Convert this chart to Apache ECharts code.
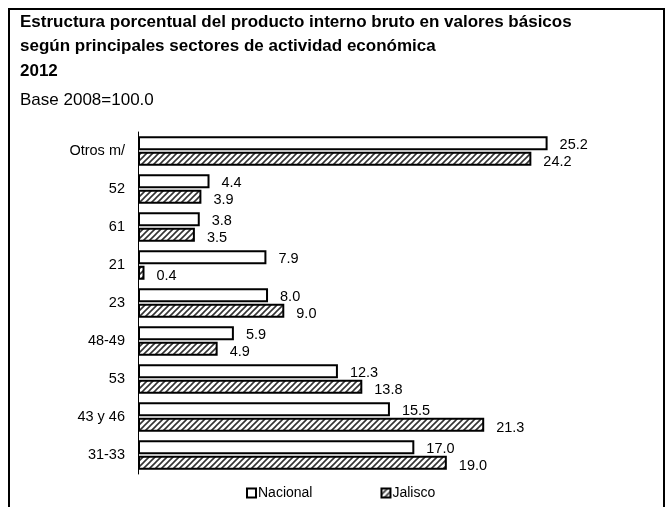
<!DOCTYPE html>
<html>
<head>
<meta charset="utf-8">
<title>PIB Jalisco 2012</title>
<script src="https://cdn.jsdelivr.net/npm/echarts@6/dist/echarts.min.js"></script>
</head>
<body style="margin:0">
<div id="main" style="width:668px;height:507px;"></div>
<script type="text/javascript">
// datos (orden de arriba hacia abajo)
var sectores = ['Otros m/', '52', '61', '21', '23', '48-49', '53', '43 y 46', '31-33'];
var nacional = [25.2, 4.4, 3.8, 7.9, 8.0, 5.9, 12.3, 15.5, 17.0];
var jalisco = [24.2, 3.9, 3.5, 0.4, 9.0, 4.9, 13.8, 21.3, 19.0];

var fuente = '"Liberation Sans", Arial, sans-serif';

// trama diagonal para Jalisco
function trama() {
    var c = document.createElement('canvas');
    c.width = 6; c.height = 6;
    var ctx = c.getContext('2d');
    ctx.fillStyle = '#fff';
    ctx.fillRect(0, 0, 6, 6);
    ctx.strokeStyle = '#333';
    ctx.lineWidth = 1.6;
    ctx.beginPath();
    ctx.moveTo(-1, 7); ctx.lineTo(7, -1);
    ctx.moveTo(-4, 4); ctx.lineTo(4, -4);
    ctx.moveTo(2, 10); ctx.lineTo(10, 2);
    ctx.stroke();
    return { image: c, repeat: 'repeat' };
}
var patron = trama();

var myChart = echarts.init(document.getElementById('main'));

var option = {
    backgroundColor: '#fff',
    animation: false,
    title: [{
        text: 'Estructura porcentual del producto interno bruto en valores básicos\nsegún principales sectores de actividad económica\n2012',
        left: 20,
        top: 10,
        padding: 0,
        textStyle: { fontFamily: fuente, fontSize: 17, fontWeight: 'bold', color: '#000', lineHeight: 24.5 }
    }, {
        text: 'Base 2008=100.0',
        left: 20,
        top: 90,
        padding: 0,
        textStyle: { fontFamily: fuente, fontSize: 17, fontWeight: 'normal', color: '#000', lineHeight: 20 }
    }],
    graphic: [{
        type: 'rect',
        shape: { x: 9, y: 9, width: 655, height: 520 },
        style: { fill: 'none', stroke: '#000', lineWidth: 2 },
        silent: true
    }],
    legend: {
        left: 241,
        top: 481,
        itemWidth: 9,
        itemHeight: 9,
        itemGap: 68,
        icon: 'rect',
        textStyle: { fontFamily: fuente, fontSize: 14, color: '#000', padding: [0, 0, 0, -3] },
        data: ['Nacional', 'Jalisco']
    },
    grid: { left: 138, top: 132, bottom: 33, right: 44 },
    xAxis: {
        type: 'value',
        min: 0,
        max: 29.9,
        show: false
    },
    yAxis: {
        type: 'category',
        inverse: true,
        data: sectores,
        axisLine: { lineStyle: { color: '#000', width: 1 } },
        axisTick: { length: 4, lineStyle: { color: '#000' } },
        axisLabel: { fontFamily: fuente, fontSize: 14.5, color: '#000', margin: 13 }
    },
    series: [{
        name: 'Nacional',
        type: 'bar',
        data: nacional,
        barWidth: 14,
        barGap: '10%',
        itemStyle: { color: '#fff', borderColor: '#000', borderWidth: 2 },
        label: {
            show: true, position: 'right', distance: 12, offset: [0, 2],
            fontFamily: fuente, fontSize: 14.5, color: '#000',
            formatter: function (p) { return p.value.toFixed(1); }
        }
    }, {
        name: 'Jalisco',
        type: 'bar',
        data: jalisco,
        barWidth: 14,
        itemStyle: { color: patron, borderColor: '#000', borderWidth: 2 },
        label: {
            show: true, position: 'right', distance: 12, offset: [0, 3],
            fontFamily: fuente, fontSize: 14.5, color: '#000',
            formatter: function (p) { return p.value.toFixed(1); }
        }
    }]
};
myChart.setOption(option);
</script>
</body>
</html>
